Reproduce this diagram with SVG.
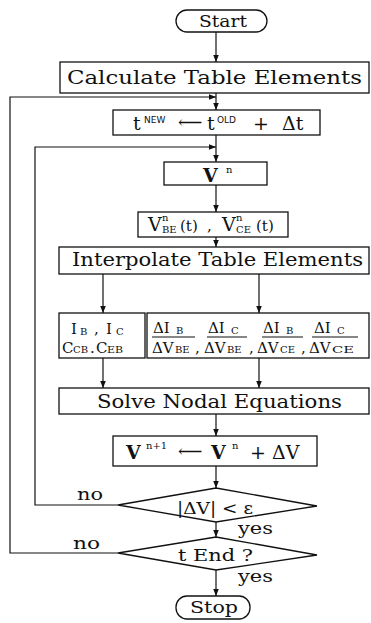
<svg xmlns="http://www.w3.org/2000/svg" width="371" height="623" viewBox="0 0 371 623">
<defs>
<marker id="ah" viewBox="0 0 8 8" refX="8" refY="4" markerWidth="7" markerHeight="7" markerUnits="userSpaceOnUse" orient="auto"><path d="M0,0.8 L8,4 L0,7.2 Z" fill="#111"/></marker>
</defs>
<style>
.b{fill:#fff;stroke:#111;stroke-width:1.3}
.c{fill:none;stroke:#111;stroke-width:1.2}
.t{font-family:"DejaVu Serif","Liberation Serif",serif;fill:#111}
.L{font-size:19px}
.M{font-size:17px}
.S{font-size:15px}
.s{font-size:10px}
.x{font-size:9px;font-family:"DejaVu Sans","Liberation Sans",sans-serif}
</style>
<rect width="371" height="623" fill="#fff"/>
<g id="connectors">
<path class="c" d="M216,32 V62" marker-end="url(#ah)"/>
<path class="c" d="M216,93 V110" marker-end="url(#ah)"/>
<path class="c" d="M118,553 H10 V97 H216" marker-end="url(#ah)"/>
<path class="c" d="M216,135 V162" marker-end="url(#ah)"/>
<path class="c" d="M118,505 H35 V147 H216" marker-end="url(#ah)"/>
<path class="c" d="M216,185 V212" marker-end="url(#ah)"/>
<path class="c" d="M216,237 V247" marker-end="url(#ah)"/>
<path class="c" d="M103,274 V313" marker-end="url(#ah)"/>
<path class="c" d="M259,274 V313" marker-end="url(#ah)"/>
<path class="c" d="M103,358 V388" marker-end="url(#ah)"/>
<path class="c" d="M259,358 V388" marker-end="url(#ah)"/>
<path class="c" d="M216,414 V436" marker-end="url(#ah)"/>
<path class="c" d="M216,466 V488" marker-end="url(#ah)"/>
<path class="c" d="M216,522 V537" marker-end="url(#ah)"/>
<path class="c" d="M216,570 V596" marker-end="url(#ah)"/>
<text class="t M" x="77" y="500" textLength="26" lengthAdjust="spacingAndGlyphs">no</text>
<text class="t M" x="238" y="534" textLength="35" lengthAdjust="spacingAndGlyphs">yes</text>
<text class="t M" x="73" y="549" textLength="27" lengthAdjust="spacingAndGlyphs">no</text>
<text class="t M" x="238" y="582" textLength="35" lengthAdjust="spacingAndGlyphs">yes</text>
</g>
<g id="start">
<rect class="b" x="176" y="10" width="91" height="22" rx="11"/>
<text class="t M" x="199" y="27" textLength="48" lengthAdjust="spacingAndGlyphs">Start</text>
</g>
<g id="calc">
<rect class="b" x="60" y="62" width="309" height="31"/>
<text class="t L" x="67" y="84" textLength="295" lengthAdjust="spacingAndGlyphs">Calculate Table Elements</text>
</g>
<g id="tnew">
<rect class="b" x="113" y="110" width="207" height="25"/>
<text class="t L" x="133" y="130">t</text>
<text class="t x" x="144" y="123">NEW</text>
<text class="t M" x="178" y="128" font-family="DejaVu Sans">⟵</text>
<text class="t L" x="207" y="130">t</text>
<text class="t x" x="217" y="123">OLD</text>
<text class="t L" x="253" y="130">+</text>
<text class="t L" x="282" y="130">Δt</text>
</g>
<g id="vn">
<rect class="b" x="164" y="162" width="103" height="23"/>
<text class="t L" x="203" y="182" font-weight="bold">V</text>
<text class="t s" x="226" y="173">n</text>
</g>
<g id="vbe">
<rect class="b" x="138" y="212" width="150" height="25"/>
<text class="t L" x="148" y="231">V</text>
<text class="t s" x="162" y="221">n</text>
<text class="t s" x="162" y="233">BE</text>
<text class="t S" x="180" y="231">(t)</text>
<text class="t S" x="207" y="231">,</text>
<text class="t L" x="222" y="231">V</text>
<text class="t s" x="236" y="221">n</text>
<text class="t s" x="236" y="233">CE</text>
<text class="t S" x="256" y="231">(t)</text>
</g>
<g id="interp">
<rect class="b" x="59" y="247" width="310" height="27"/>
<text class="t L" x="72" y="266" textLength="291" lengthAdjust="spacingAndGlyphs">Interpolate Table Elements</text>
</g>
<g id="ibic">
<rect class="b" x="59" y="313" width="86" height="45"/>
<text class="t S" x="71" y="334">I</text>
<text class="t s" x="80" y="335">B</text>
<text class="t S" x="94" y="334">,</text>
<text class="t S" x="106" y="334">I</text>
<text class="t s" x="116" y="335">C</text>
<text class="t S" x="62" y="353">C</text>
<text class="t s" x="73" y="353">CB</text>
<text class="t S" x="90" y="353">.</text>
<text class="t S" x="96" y="353">C</text>
<text class="t s" x="107" y="353" textLength="16" lengthAdjust="spacingAndGlyphs">EB</text>
</g>
<g id="derivs">
<rect class="b" x="147" y="313" width="222" height="45"/>
<text class="t S" x="153" y="333">ΔI</text>
<text class="t s" x="176" y="334">B</text>
<text class="t S" x="208" y="333">ΔI</text>
<text class="t s" x="231" y="334">C</text>
<text class="t S" x="263" y="333">ΔI</text>
<text class="t s" x="286" y="334">B</text>
<text class="t S" x="314" y="333">ΔI</text>
<text class="t s" x="337" y="334">C</text>
<path class="c" d="M152,337 H195 M207,337 H247 M262,337 H303 M312,337 H358"/>
<text class="t S" x="152" y="353">ΔV</text>
<text class="t s" x="175" y="353">BE</text>
<text class="t S" x="195" y="353">,</text>
<text class="t S" x="204" y="353">ΔV</text>
<text class="t s" x="227" y="353">BE</text>
<text class="t S" x="249" y="353">,</text>
<text class="t S" x="257" y="353">ΔV</text>
<text class="t s" x="280" y="353">CE</text>
<text class="t S" x="301" y="353">,</text>
<text class="t S" x="309" y="353">ΔV</text>
<text class="t s" x="332" y="353" textLength="22" lengthAdjust="spacingAndGlyphs">CE</text>
</g>
<g id="solve">
<rect class="b" x="59" y="388" width="310" height="26"/>
<text class="t L" x="97" y="408" textLength="245" lengthAdjust="spacingAndGlyphs">Solve Nodal Equations</text>
</g>
<g id="vnew">
<rect class="b" x="113" y="436" width="204" height="30"/>
<text class="t L" x="126" y="459" font-weight="bold">V</text>
<text class="t s" x="146" y="449">n+1</text>
<text class="t M" x="178" y="457" font-family="DejaVu Sans">⟵</text>
<text class="t L" x="211" y="459" font-weight="bold">V</text>
<text class="t s" x="232" y="449">n</text>
<text class="t L" x="250" y="459">+</text>
<text class="t L" x="272" y="459">ΔV</text>
</g>
<g id="conv">
<polygon class="b" points="118,505 216,488 317,506 216,522"/>
<text class="t M" x="177" y="514" textLength="76" lengthAdjust="spacingAndGlyphs">|ΔV| &lt; ε</text>
</g>
<g id="tend">
<polygon class="b" points="118,553 216,537 317,555 216,570"/>
<text class="t M" x="178" y="561" textLength="75" lengthAdjust="spacingAndGlyphs">t End ?</text>
</g>
<g id="stop">
<rect class="b" x="176" y="596" width="74" height="23" rx="11"/>
<text class="t M" x="190" y="613" textLength="48" lengthAdjust="spacingAndGlyphs">Stop</text>
</g>
</svg>
